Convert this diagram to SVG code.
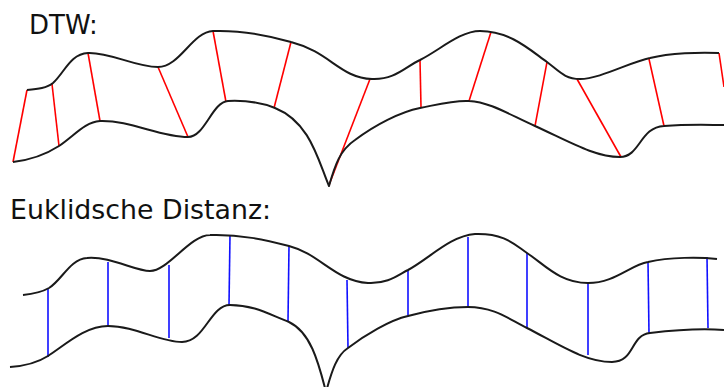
<svg xmlns="http://www.w3.org/2000/svg" width="724" height="387" viewBox="0 0 724 387">
<style>
.curve{fill:none;stroke:#1a1a1a;stroke-width:2;stroke-linejoin:round}
.dtw{stroke:#ff0000;stroke-width:1.6}
.euk{stroke:#1010ff;stroke-width:1.6}
.lbl{font-family:"DejaVu Sans",sans-serif;font-size:26px;fill:#111}
</style>
<rect width="724" height="387" fill="#fff"/>
<text class="lbl" x="29" y="34">DTW:</text>
<text class="lbl" x="10" y="219" style="font-size:26.8px">Euklidsche Distanz:</text>
<g id="connectors">
<g id="dtw-lines" class="dtw">
<line x1="27" y1="90" x2="13" y2="162"/>
<line x1="52" y1="84" x2="59" y2="146"/>
<line x1="88" y1="53" x2="100" y2="121"/>
<line x1="158" y1="67" x2="188" y2="137"/>
<line x1="213" y1="31" x2="226" y2="102"/>
<line x1="291" y1="42" x2="274" y2="108"/>
<line x1="370" y1="79" x2="329" y2="185"/>
<line x1="420" y1="60" x2="421" y2="107"/>
<line x1="491" y1="32" x2="469" y2="101"/>
<line x1="547" y1="62" x2="535" y2="126"/>
<line x1="577" y1="79" x2="621" y2="157"/>
<line x1="649" y1="59" x2="664" y2="126"/>
<line x1="719" y1="53" x2="724" y2="87"/>
</g>
<g id="euk-lines" class="euk">
<line x1="48" y1="289" x2="48" y2="357"/>
<line x1="108" y1="262" x2="108" y2="326"/>
<line x1="169" y1="265" x2="169" y2="338"/>
<line x1="230" y1="235" x2="229" y2="305"/>
<line x1="289" y1="246" x2="288" y2="322"/>
<line x1="347" y1="280" x2="348" y2="348"/>
<line x1="408" y1="270" x2="408" y2="316"/>
<line x1="468" y1="237" x2="468" y2="307"/>
<line x1="527" y1="253" x2="527" y2="328"/>
<line x1="588" y1="283" x2="588" y2="355"/>
<line x1="648" y1="262" x2="649" y2="334"/>
<line x1="707" y1="257" x2="708" y2="328"/>
</g>
</g>
<g id="dtw-curves">
<path class="curve" d="M27,90 C38,89 47,88 53,83 C65,72 70,54 88,53 C110,52 135,67 158,67 C180,67 192,32 213,31 C240,30 270,36 291,42 C330,52 340,78 372,79 C395,80 405,67 420,60 C440,50 460,31 480,31 C510,31 530,50 547,62 C560,72 565,79 580,79 C600,79 630,62 650,58 C670,53 700,52 719,53"/>
<path class="curve" d="M13,162 C30,160 45,155 59,146 C75,135 85,122 100,121 C130,120 160,137 188,137 C205,137 212,102 228,101 C250,100 265,104 275,108 C310,122 318,160 329,186 C335,165 340,150 355,140 C375,125 400,112 420,108 C440,104 455,100 469,101 C490,102 510,115 535,126 C570,142 595,157 620,157 C640,157 640,127 664,126 C690,124 710,125 724,125"/>
</g>
<g id="euk-curves">
<path class="curve" d="M23,295 C33,294 42,292 49,288 C62,280 70,259 87,258 C110,256 135,271 150,271 C168,271 190,235 210,235 C240,234 265,240 289,246 C320,254 335,281 368,283 C388,284 398,275 408,270 C430,258 450,236 475,234 C505,233 515,245 527,253 C545,265 560,283 588,283 C615,283 630,265 648,262 C670,257 700,257 717,259"/>
<path class="curve" d="M10,367 C25,366 37,363 48,356 C65,345 85,326 108,326 C135,326 160,342 182,342 C205,342 210,305 230,305 C255,305 270,315 289,322 C310,332 318,360 326,392 C332,370 337,355 348,348 C365,335 390,320 408,316 C430,310 450,307 468,307 C495,307 510,320 527,328 C560,345 585,362 612,362 C635,362 630,335 650,333 C675,330 700,328 724,330"/>
</g>
</svg>
